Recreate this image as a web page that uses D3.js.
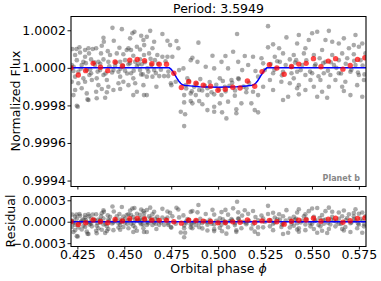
<!DOCTYPE html>
<html>
<head>
<meta charset="utf-8">
<script src="https://cdn.jsdelivr.net/npm/d3@7"></script>
<style>
  html, body { margin: 0; padding: 0; background: #fff; }
  svg { display: block; }
  text { font-family: "DejaVu Sans", sans-serif; }
</style>
</head>
<body>
<svg id="chart" width="381" height="281"></svg>
<script>
// ---------------- DATA ----------------
const title = "Period: 3.5949";
const planetLabel = "Planet b";
const xLabel = "Orbital phase ";
const xLabelSymbol = "\u03D5";
const yLabelTop = "Normalized Flux";
const yLabelRes = "Residual";

const xTicks = [0.425, 0.450, 0.475, 0.500, 0.525, 0.550, 0.575];
const yTicksTop = [0.9994, 0.9996, 0.9998, 1.0000, 1.0002];
const yTicksRes = [-0.0003, 0.0000, 0.0003];

// transit model (blue line): phase, normalized flux
const modelPhase = [0.4216, 0.4740, 0.4750, 0.4760, 0.4770, 0.4780, 0.4790, 0.4800, 0.4810, 0.4820, 0.4850, 0.4900, 0.4950, 0.5000, 0.5050, 0.5100, 0.5150, 0.5180, 0.5190, 0.5200, 0.5210, 0.5220, 0.5230, 0.5240, 0.5250, 0.5260, 0.5788];
const modelFlux  = [1.000000, 1.000000, 0.999992, 0.999978, 0.999962, 0.999945, 0.999930, 0.999918, 0.999910, 0.999907, 0.999904, 0.999900, 0.999898, 0.999897, 0.999898, 0.999900, 0.999904, 0.999907, 0.999910, 0.999918, 0.999930, 0.999945, 0.999962, 0.999978, 0.999992, 1.000000, 1.000000];

// binned data (red points)
const binPhase = [0.4216, 0.4255, 0.4294, 0.4334, 0.4373, 0.4412, 0.4451, 0.4490, 0.4529, 0.4569, 0.4608, 0.4647, 0.4686, 0.4725, 0.4764, 0.4804, 0.4843, 0.4882, 0.4921, 0.4960, 0.4999, 0.5038, 0.5078, 0.5117, 0.5156, 0.5195, 0.5234, 0.5273, 0.5313, 0.5352, 0.5391, 0.5430, 0.5469, 0.5508, 0.5548, 0.5587, 0.5626, 0.5665, 0.5704, 0.5743, 0.5782];
const binFlux  = [0.999999, 0.999962, 0.999985, 1.000024, 1.000003, 0.999985, 1.000031, 1.000010, 1.000041, 1.000045, 1.000038, 1.000022, 1.000019, 1.000019, 0.999971, 0.999895, 0.999926, 0.999918, 0.999908, 0.999902, 0.999881, 0.999886, 0.999897, 0.999893, 0.999930, 0.999902, 0.999980, 1.000017, 0.999999, 0.999966, 1.000007, 1.000020, 1.000024, 1.000049, 1.000006, 1.000036, 1.000049, 0.999993, 1.000013, 1.000045, 1.000054];

// individual observations (grey points): [phase, flux offset from 1 in ppm]
const grayPoints = [
 [0.4437,213],[0.4487,206],[0.4554,192],[0.4543,184],[0.4590,171],[0.4389,160],[0.4444,144],[0.4531,157],[0.4391,139],[0.4602,148],
 [0.4380,118],[0.4522,104],[0.4567,112],[0.4474,107],[0.4222,100],[0.4261,109],[0.4291,95],[0.4309,104],[0.4332,100],[0.4350,104],
 [0.4412,89],[0.4513,95],[0.4536,95],[0.4584,98],[0.4238,68],[0.4291,59],[0.4312,77],[0.4264,82],[0.4376,77],[0.4424,68],
 [0.4460,77],[0.4495,72],[0.4548,64],[0.4605,68],[0.4247,41],[0.4282,32],[0.4323,45],[0.4362,32],[0.4389,45],[0.4415,32],
 [0.4478,32],[0.4504,41],[0.4558,32],[0.4584,45],[0.4220,15],[0.4273,15],[0.4344,15],[0.4451,11],[0.4522,19],[0.4567,10],
 [0.4593,19],[0.4229,-17],[0.4255,-21],[0.4300,-12],[0.4323,-29],[0.4371,-12],[0.4389,-38],[0.4442,-12],[0.4469,-21],[0.4504,-15],
 [0.4536,-29],[0.4584,-12],[0.4238,-47],[0.4282,-56],[0.4314,-38],[0.4353,-56],[0.4407,-65],[0.4478,-47],[0.4548,-56],[0.4599,-35],
 [0.4220,-74],[0.4255,-82],[0.4291,-74],[0.4327,-65],[0.4362,-92],[0.4415,-101],[0.4469,-82],[0.4495,-74],[0.4522,-92],[0.4558,-82],
 [0.4602,-92],[0.4238,-118],[0.4273,-109],[0.4380,-113],[0.4442,-118],[0.4478,-113],[0.4567,-127],[0.4229,-145],[0.4300,-136],[0.4350,-127],
 [0.4407,-130],[0.4548,-145],[0.4605,-145],[0.4309,-171],[0.4353,-162],[0.4247,-202],[0.4398,-159],[0.4252,-207],[0.4304,-168],[0.4245,100],
 [0.4638,197],[0.4703,180],[0.4620,165],[0.4730,144],[0.4778,143],[0.4744,121],[0.4788,104],[0.4659,139],[0.4606,121],[0.4650,104],
 [0.4632,77],[0.4676,68],[0.4703,59],[0.4730,59],[0.4756,59],[0.4663,41],[0.4644,15],[0.4623,-3],[0.4659,-12],[0.4686,-44],
 [0.4712,-44],[0.4734,-44],[0.4650,-47],[0.4620,-47],[0.4671,-101],[0.4620,-145],[0.4748,-82],[0.4751,-92],[0.4774,-74],[0.4792,-12],
 [0.4815,-3],[0.4854,41],[0.4890,32],[0.4863,54],[0.4895,134],[0.4970,64],[0.4934,6],[0.4979,-3],[0.4836,-56],[0.4828,-92],
 [0.4872,-101],[0.4899,-118],[0.4943,-109],[0.4979,-141],[0.4819,-145],[0.4854,-136],[0.4881,-145],[0.4943,-145],[0.4819,-184],[0.4863,-189],
 [0.4899,-177],[0.4943,-225],[0.4979,-234],[0.4801,-234],[0.4824,-247],[0.4819,-310],[0.4979,-207],[0.4916,-194],[0.4854,-177],
 [0.5266,222],[0.5101,180],[0.5364,162],[0.5293,125],[0.5266,109],[0.5080,86],[0.5039,63],[0.5142,63],[0.5186,59],[0.5231,51],
 [0.5302,59],[0.5325,104],[0.5346,77],[0.5018,32],[0.5107,32],[0.5160,15],[0.5240,24],[0.5329,32],[0.5382,45],[0.5053,-3],
 [0.5128,-12],[0.5199,-17],[0.5249,-12],[0.5293,-29],[0.5346,-21],[0.5391,-29],[0.5009,-56],[0.5071,-65],[0.5107,-56],[0.5213,-47],
 [0.5276,-65],[0.5337,-74],[0.5382,-82],[0.5036,-101],[0.5151,-109],[0.5186,-127],[0.5240,-101],[0.5293,-118],[0.5018,-145],[0.5089,-148],
 [0.5124,-189],[0.5177,-189],[0.5213,-145],[0.5346,-171],[0.5373,-154],[0.5009,-189],[0.5053,-180],[0.5021,-237],[0.5097,-242],[0.5044,-269],
 [0.5195,-225],[0.5213,-237],[0.5097,-221],
 [0.5590,197],[0.5430,175],[0.5501,184],[0.5528,192],[0.5732,175],[0.5670,157],[0.5483,148],[0.5572,148],[0.5608,139],[0.5421,130],
 [0.5643,130],[0.5723,121],[0.5768,130],[0.5465,104],[0.5554,95],[0.5697,104],[0.5750,112],[0.5403,68],[0.5457,77],[0.5510,68],
 [0.5608,68],[0.5661,77],[0.5723,72],[0.5785,77],[0.5416,41],[0.5541,51],[0.5572,32],[0.5643,41],[0.5688,51],[0.5759,41],
 [0.5448,15],[0.5519,19],[0.5617,15],[0.5732,15],[0.5421,-21],[0.5465,-38],[0.5501,-29],[0.5563,-29],[0.5598,-38],[0.5643,-29],
 [0.5705,-21],[0.5750,-38],[0.5403,-56],[0.5492,-65],[0.5545,-65],[0.5625,-65],[0.5678,-74],[0.5777,-65],[0.5430,-92],[0.5510,-101],
 [0.5590,-101],[0.5661,-101],[0.5741,-92],[0.5465,-118],[0.5554,-127],[0.5670,-123],[0.5421,-109],[0.5430,-141],[0.5705,-145],[0.5581,-159],
 [0.5768,-154],[0.5528,-154],
 [0.4230,5],[0.4268,-5],[0.4295,25],[0.4318,-8],[0.4340,30],[0.4358,-20],[0.4372,22],[0.4400,-30],[0.4420,8],[0.4435,-25],
 [0.4455,28],[0.4480,-5],[0.4492,12],[0.4515,-30],[0.4530,25],[0.4550,-15],[0.4575,20],[0.4590,-35],[0.4610,30],[0.4628,-20],
 [0.4640,48],[0.4668,-28],[0.4680,22],[0.4695,-10],[0.4720,35],[0.4735,-20],
 [0.4830,-110],[0.4845,-70],[0.4860,-125],[0.4885,-85],[0.4905,-60],[0.4915,-120],[0.4930,-95],[0.4955,-75],[0.4965,-130],[0.4990,-90],
 [0.5005,-115],[0.5025,-70],[0.5040,-125],[0.5060,-95],[0.5075,-80],[0.5090,-120],[0.5110,-60],[0.5135,-100],[0.5150,-130],[0.5165,-80],
 [0.5280,20],[0.5300,-10],[0.5315,35],[0.5340,-40],[0.5360,15],[0.5390,5],[0.5410,28],[0.5440,-12],[0.5470,40],[0.5490,-20],
 [0.5515,10],[0.5535,-45],[0.5560,25],[0.5585,-15],[0.5600,30],[0.5630,0],[0.5655,-30],[0.5680,22],[0.5710,-10],[0.5725,38],
 [0.5745,-25],[0.5770,12],[0.5780,-35]
];

// ---------------- CHART ----------------
const svg = d3.select("#chart");
const left = 71, right = 366;
const topP = {y0: 16, y1: 186};
const resP = {y0: 196, y1: 246};
const fontSize = 12.5;

const x = d3.scaleLinear().domain([0.4216, 0.5788]).range([left, right]);
const yTop = d3.scaleLinear().domain([0.999371, 1.000276]).range([topP.y1, topP.y0]);
const yRes = d3.scaleLinear().domain([-0.00034, 0.00036]).range([resP.y1, resP.y0]);

// model evaluated at a phase (linear between model samples)
const modelAt = d3.scaleLinear().domain(modelPhase).range(modelFlux);

const gray = grayPoints.map(([p, ppm]) => ({p, f: 1 + ppm * 1e-6}));
const bins = binPhase.map((p, i) => ({p, f: binFlux[i]}));
const model = modelPhase.map((p, i) => ({p, f: modelFlux[i]}));

const defs = svg.append("defs");
defs.append("clipPath").attr("id", "clipTop").append("rect")
  .attr("x", left).attr("y", topP.y0).attr("width", right - left).attr("height", topP.y1 - topP.y0);
defs.append("clipPath").attr("id", "clipRes").append("rect")
  .attr("x", left).attr("y", resP.y0).attr("width", right - left).attr("height", resP.y1 - resP.y0);

// ---- top panel
const gTop = svg.append("g").attr("clip-path", "url(#clipTop)");
gTop.selectAll("circle.g").data(gray).join("circle")
  .attr("cx", d => x(d.p)).attr("cy", d => yTop(d.f)).attr("r", 2.3)
  .attr("fill", "#333").attr("fill-opacity", 0.42);
gTop.append("path").datum(model)
  .attr("d", d3.line().x(d => x(d.p)).y(d => yTop(d.f)))
  .attr("fill", "none").attr("stroke", "#0000ff").attr("stroke-width", 1.5);
gTop.selectAll("circle.r").data(bins).join("circle")
  .attr("cx", d => x(d.p)).attr("cy", d => yTop(d.f)).attr("r", 2.7)
  .attr("fill", "#ff0000").attr("fill-opacity", 0.72);

// ---- residual panel
const gRes = svg.append("g").attr("clip-path", "url(#clipRes)");
gRes.selectAll("circle.g").data(gray).join("circle")
  .attr("cx", d => x(d.p)).attr("cy", d => yRes(d.f - modelAt(d.p))).attr("r", 2.3)
  .attr("fill", "#333").attr("fill-opacity", 0.42);
gRes.append("path").datum(x.domain())
  .attr("d", d3.line().x(d => x(d)).y(() => yRes(0)))
  .attr("fill", "none").attr("stroke", "#0000ff").attr("stroke-width", 1.5);
gRes.selectAll("circle.r").data(bins).join("circle")
  .attr("cx", d => x(d.p)).attr("cy", d => yRes(d.f - modelAt(d.p))).attr("r", 2.7)
  .attr("fill", "#ff0000").attr("fill-opacity", 0.72);

// ---- axes
function styleAxis(g) {
  g.select(".domain").remove();
  g.selectAll(".tick line").attr("stroke", "#000").attr("stroke-width", 0.9);
  g.selectAll(".tick text").attr("fill", "#000")
    .style("font-family", "'DejaVu Sans', sans-serif").style("font-size", fontSize + "px");
}
const fmtMinus = f => v => f(v).replace("-", "\u2212");

svg.append("g").attr("transform", `translate(${left},0)`)
  .call(d3.axisLeft(yTop).tickValues(yTicksTop).tickFormat(d3.format(".4f")).tickSize(3.5).tickPadding(1.5))
  .call(styleAxis);
svg.append("g").attr("transform", `translate(0,${topP.y1})`)
  .call(d3.axisBottom(x).tickValues(xTicks).tickFormat("").tickSize(3.5))
  .call(styleAxis);

svg.append("g").attr("transform", `translate(${left},0)`)
  .call(d3.axisLeft(yRes).tickValues(yTicksRes).tickFormat(fmtMinus(d3.format(".4f"))).tickSize(3.5).tickPadding(1.5))
  .call(styleAxis);
svg.append("g").attr("transform", `translate(0,${resP.y1})`)
  .call(d3.axisBottom(x).tickValues(xTicks).tickFormat(d3.format(".3f")).tickSize(3.5).tickPadding(1))
  .call(styleAxis);

// ---- spines
function spines(p) {
  const g = svg.append("g").attr("fill", "none").attr("stroke", "#000");
  g.append("line").attr("x1", left).attr("x2", right).attr("y1", p.y0 + 0.5).attr("y2", p.y0 + 0.5).attr("stroke-width", 1);
  g.append("line").attr("x1", left).attr("x2", right).attr("y1", p.y1 + 0.5).attr("y2", p.y1 + 0.5).attr("stroke-width", 1);
  g.append("line").attr("x1", left).attr("x2", left).attr("y1", p.y0).attr("y2", p.y1 + 1).attr("stroke-width", 1.1);
  g.append("line").attr("x1", right).attr("x2", right).attr("y1", p.y0).attr("y2", p.y1 + 1).attr("stroke-width", 1.1);
}
spines(topP);
spines(resP);

// ---- texts
svg.append("text").attr("x", (left + right) / 2).attr("y", 13)
  .attr("text-anchor", "middle").style("font-size", fontSize + "px").text(title);
const xl = svg.append("text").attr("x", (left + right) / 2).attr("y", 272.5)
  .attr("text-anchor", "middle").style("font-size", fontSize + "px");
xl.append("tspan").text(xLabel);
xl.append("tspan").style("font-style", "italic").text(xLabelSymbol);
svg.append("text").attr("transform", `translate(19.5,${(topP.y0 + topP.y1) / 2}) rotate(-90)`)
  .attr("text-anchor", "middle").style("font-size", fontSize + "px").text(yLabelTop);
svg.append("text").attr("transform", `translate(14.5,${(resP.y0 + resP.y1) / 2}) rotate(-90)`)
  .attr("text-anchor", "middle").style("font-size", fontSize + "px").text(yLabelRes);
svg.append("text").attr("x", right - 6).attr("y", 180.5)
  .attr("text-anchor", "end").attr("fill", "#888").style("font-weight", "bold")
  .style("font-size", "8px").text(planetLabel);
</script>
</body>
</html>
